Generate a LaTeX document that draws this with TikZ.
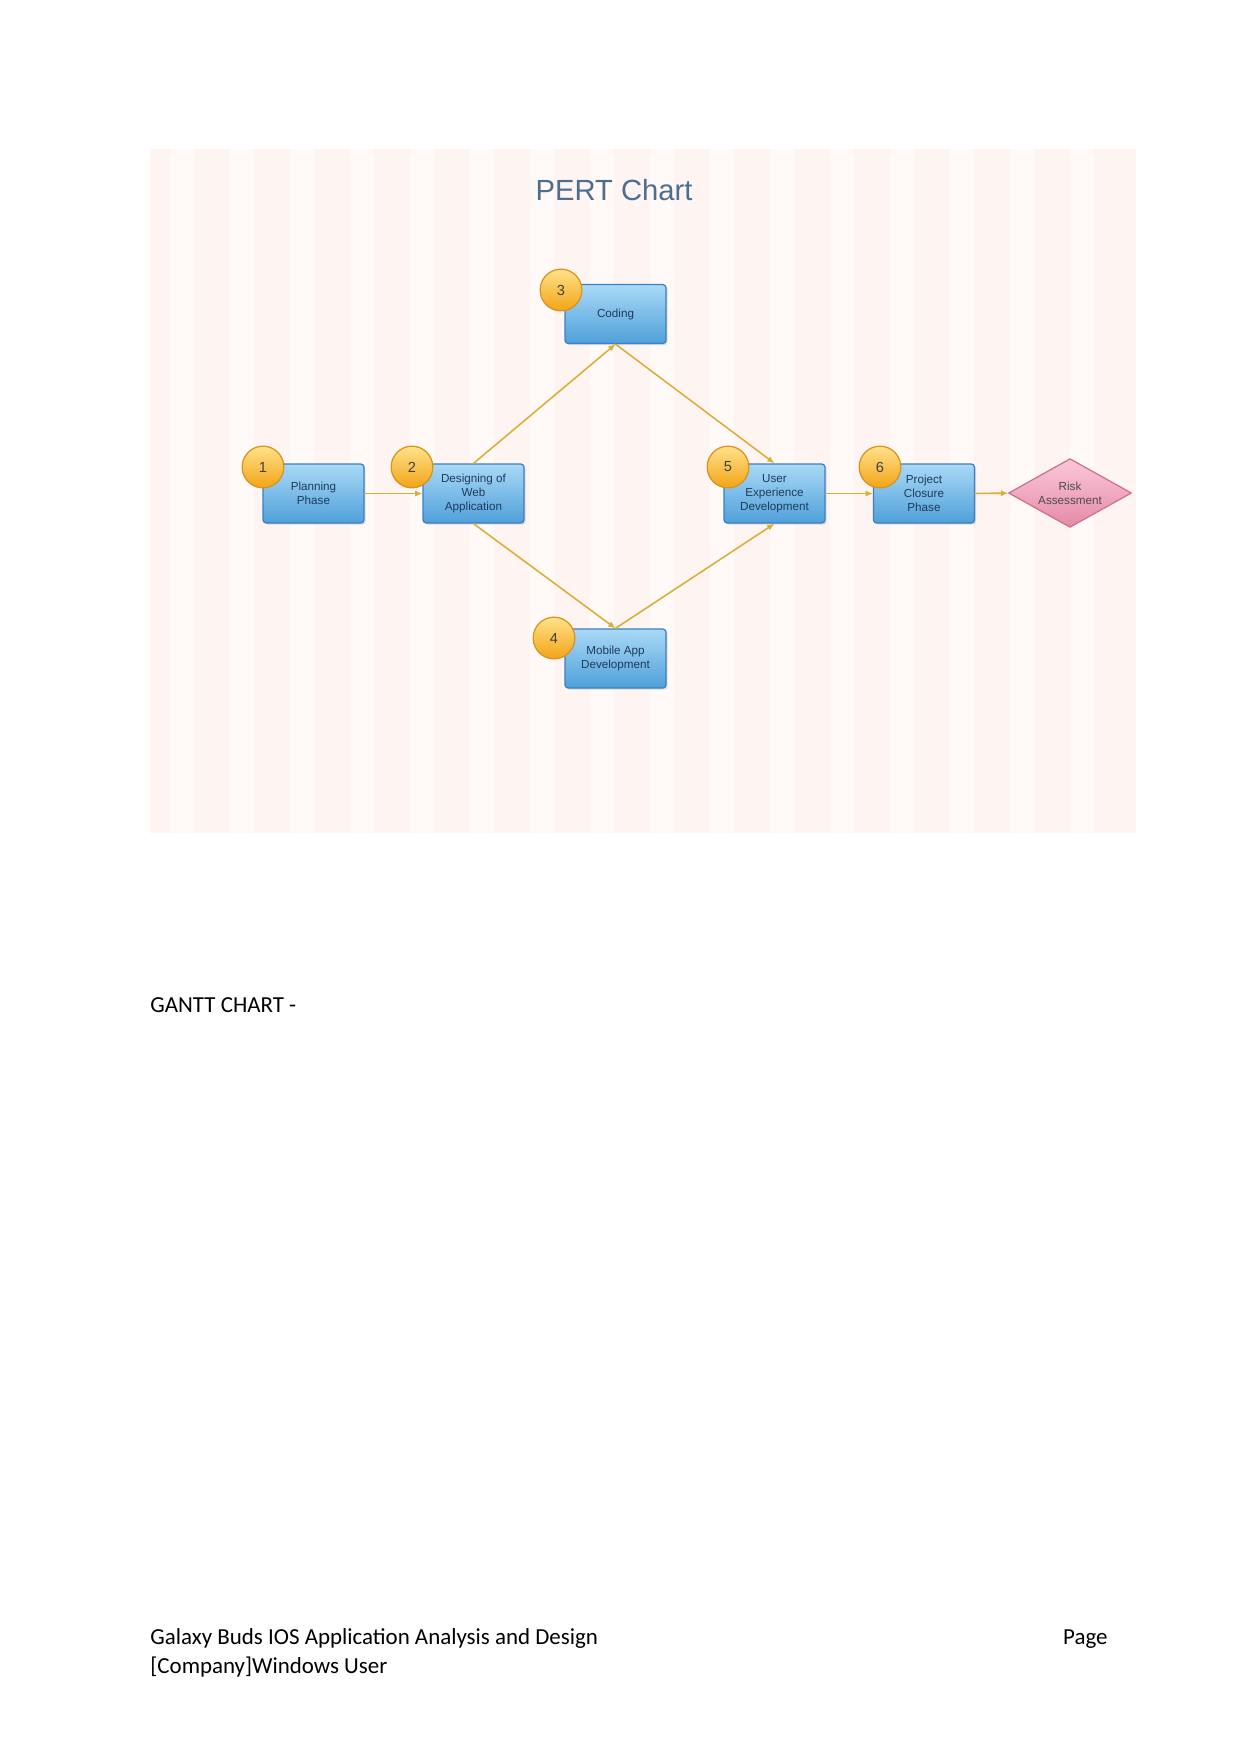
\documentclass[tikz,border=0pt]{standalone}
\usepackage{fontspec}
\setmainfont{Carlito}
\newfontfamily\chartfont{Liberation Sans}
\usetikzlibrary{arrows.meta,shapes.geometric,shadows}
\definecolor{pertPaper}{HTML}{FEF4F2}
\definecolor{pertStripe}{HTML}{FFFAF8}
\definecolor{pertTitle}{HTML}{4E6E8E}
\definecolor{pertBlueTop}{HTML}{A9D9F6}
\definecolor{pertBlueBot}{HTML}{4FA0DA}
\definecolor{pertBlueLine}{HTML}{3B80C2}
\definecolor{pertInk}{HTML}{1F3B5C}
\definecolor{pertGoldTop}{HTML}{FFE28A}
\definecolor{pertGoldBot}{HTML}{F2A417}
\definecolor{pertGoldLine}{HTML}{D8951C}
\definecolor{pertWire}{HTML}{DDAE36}
\definecolor{pertPinkTop}{HTML}{FAC8D8}
\definecolor{pertPinkBot}{HTML}{E58AA8}
\definecolor{pertPinkLine}{HTML}{CF7092}
\begin{document}
\begin{tikzpicture}[x=0.47967pt,y=-0.47967pt,>=Latex,line cap=round,line join=round]
\useasboundingbox[fill=white] (0,0) rectangle (1241,1754);
% chart background with soft stripes
\path[fill=pertPaper] (150,149) rectangle (1136,833);
\foreach \sx in {170,230,...,1110}
  \path[fill=pertStripe] (\sx,149) rectangle (\sx+24,833);
\node[text=pertTitle,font=\chartfont\fontsize{14}{17}\selectfont] (title) at (614,190) {PERT Chart};
\tikzset{task/.style={draw=pertBlueLine,line width=0.6pt,top color=pertBlueTop,bottom color=pertBlueBot,rounded corners=1.5pt,minimum width=48.4pt,minimum height=28.3pt,inner sep=1pt,align=center,text=pertInk,font=\chartfont\fontsize{5.6}{6.6}\selectfont,drop shadow={opacity=0.25,shadow xshift=0.8pt,shadow yshift=-0.8pt}},
  badge/.style={circle,draw=pertGoldLine,line width=0.6pt,top color=pertGoldTop,bottom color=pertGoldBot,minimum size=20pt,inner sep=0pt,text=black!75,font=\chartfont\fontsize{7}{8}\selectfont},
  risky/.style={diamond,aspect=1.8,draw=pertPinkLine,line width=0.6pt,top color=pertPinkTop,bottom color=pertPinkBot,minimum width=59pt,minimum height=33pt,inner sep=0pt,align=center,text=black!70,font=\chartfont\fontsize{5.6}{6.6}\selectfont},
  wire/.style={draw=pertWire,line width=0.75pt,-{Latex[length=3.5pt,width=3pt]}},
  pagetext/.style={inner sep=0pt,font=\fontsize{11}{13}\selectfont}}
\node[task] (plan) at (313.5,493.5) {Planning\\Phase};
\node[task] (web) at (473.5,493.5) {Designing of\\Web\\Application};
\node[task] (code) at (615.5,314) {Coding};
\node[task] (mobile) at (615.5,658.5) {Mobile App\\Development};
\node[task] (ux) at (774.5,493.5) {User\\Experience\\Development};
\node[task] (close) at (924,493.5) {Project\\Closure\\Phase};
\node[risky] (risk) at (1070,493) {Risk\\Assessment};
\draw[wire] (plan) -- (web);
\draw[wire] (web.north) -- (code.south);
\draw[wire] (code.south) -- (ux.north);
\draw[wire] (web.south) -- (mobile.north);
\draw[wire] (mobile.north) -- (ux.south);
\draw[wire] (ux) -- (close);
\draw[wire] (close) -- (risk);
\node[badge] (b1) at (263,467) {1};
\node[badge] (b2) at (412,467) {2};
\node[badge] (b3) at (561,290) {3};
\node[badge] (b4) at (554,638) {4};
\node[badge] (b5) at (728,467) {5};
\node[badge] (b6) at (880,467) {6};
% page text
\node[pagetext,anchor=base west] (gantt) at (150,1012) {GANTT CHART -};
\node[pagetext,anchor=base west] (foot) at (150,1644) {Galaxy Buds IOS Application Analysis and Design};
\node[pagetext,anchor=base west] (user) at (150,1673) {[Company]Windows User};
\node[pagetext,anchor=base east] (page) at (1108,1644) {Page};
\end{tikzpicture}
\end{document}
